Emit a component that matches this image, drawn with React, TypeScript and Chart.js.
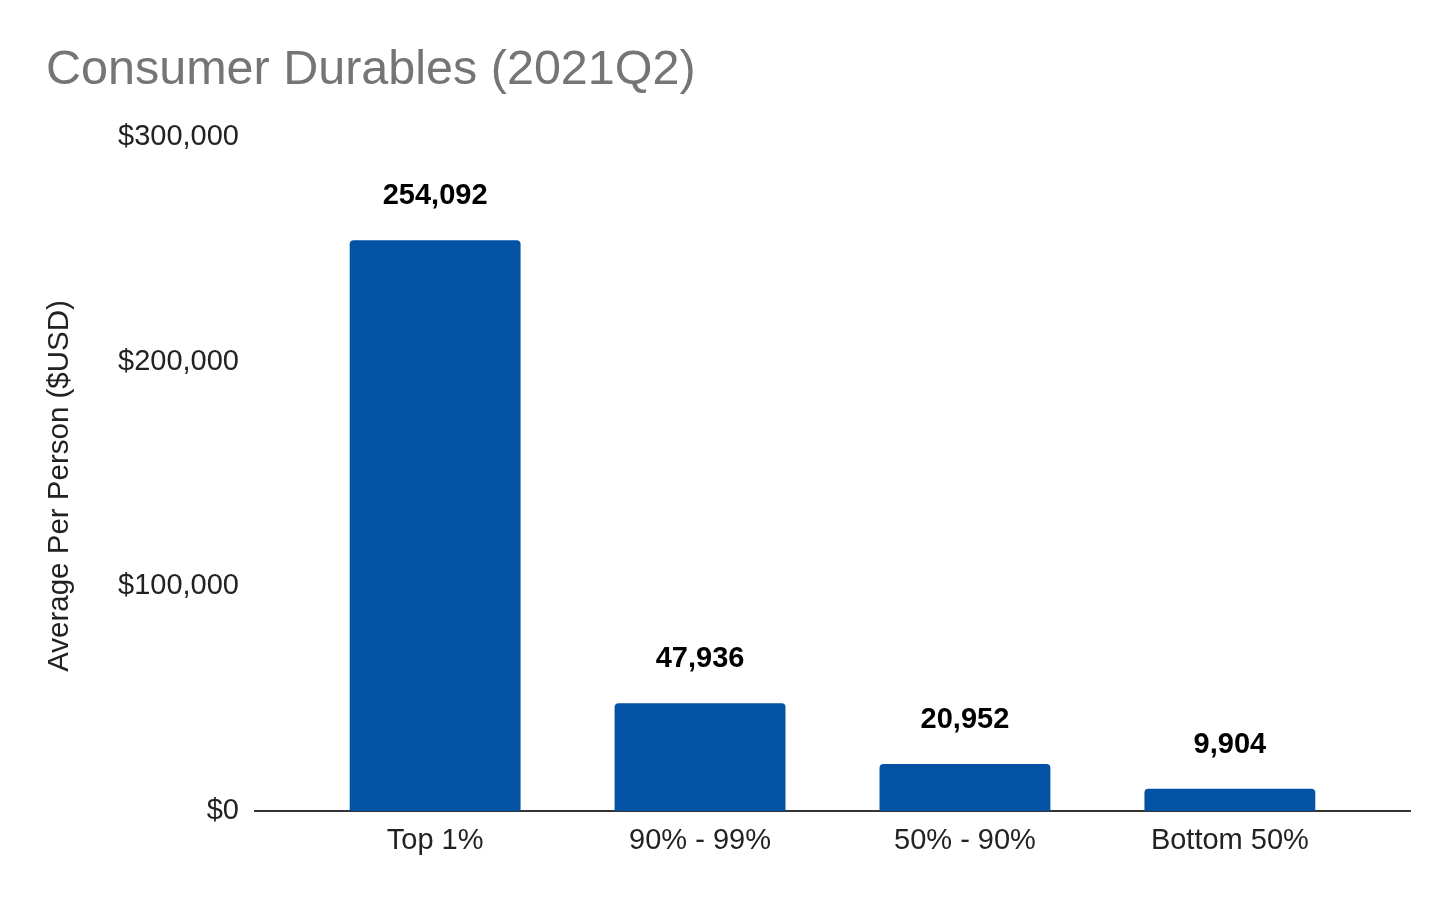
import React, { useEffect, useRef } from 'react';
import { Chart, registerables, Plugin } from 'chart.js';

Chart.register(...registerables);

const categories = ['Top 1%', '90% - 99%', '50% - 90%', 'Bottom 50%'];
const averagePerPerson = [254092, 47936, 20952, 9904];
const yTicks = [0, 100000, 200000, 300000];

const chartTitle = 'Consumer Durables (2021Q2)';
const yAxisTitle = 'Average Per Person ($USD)';
const FONT = '"Liberation Sans", Arial, sans-serif';

// title and y axis title, placed like the sheets export
const titlesPlugin: Plugin<'bar'> = {
  id: 'titles',
  afterDraw(chart) {
    const { ctx, chartArea } = chart;
    ctx.save();
    ctx.fillStyle = '#757575';
    ctx.font = `48.5px ${FONT}`;
    ctx.textAlign = 'left';
    ctx.textBaseline = 'alphabetic';
    ctx.fillText(chartTitle, 46, 84);

    ctx.fillStyle = '#222222';
    ctx.font = `29.5px ${FONT}`;
    ctx.translate(60, (chartArea.top + chartArea.bottom) / 2 + 12);
    ctx.rotate(-Math.PI / 2);
    ctx.textAlign = 'center';
    ctx.textBaseline = 'middle';
    ctx.fillText(yAxisTitle, 0, 0);
    ctx.restore();
  },
};

const valueLabelsPlugin: Plugin<'bar'> = {
  id: 'valueLabels',
  afterDatasetsDraw(chart) {
    const { ctx } = chart;
    const meta = chart.getDatasetMeta(0);
    ctx.save();
    ctx.fillStyle = '#000000';
    ctx.font = `bold 29px ${FONT}`;
    ctx.textAlign = 'center';
    ctx.textBaseline = 'middle';
    meta.data.forEach((bar, i) => {
      const { x, y } = bar.getProps(['x', 'y'], true);
      ctx.fillText(averagePerPerson[i].toLocaleString('en-US'), x, y - 44);
    });
    ctx.restore();
  },
};

const App: React.FC = () => {
  const canvasRef = useRef<HTMLCanvasElement | null>(null);
  const chartRef = useRef<Chart | null>(null);

  useEffect(() => {
    document.body.style.margin = '0';
    if (!canvasRef.current) return;
    const ctx = canvasRef.current.getContext('2d');
    if (!ctx) return;

    chartRef.current = new Chart(ctx, {
      type: 'bar',
      data: {
        datasets: [
          {
            label: yAxisTitle,
            data: averagePerPerson.map((v, i) => ({ x: i, y: v })),
            backgroundColor: '#0352a4',
            borderRadius: { topLeft: 4, topRight: 4, bottomLeft: 0, bottomRight: 0 },
            borderSkipped: 'bottom',
            categoryPercentage: 1,
            barPercentage: 0.645,
          },
        ],
      },
      options: {
        animation: false,
        responsive: false,
        maintainAspectRatio: false,
        layout: { padding: { top: 137, right: 46, left: 0, bottom: 0 } },
        plugins: {
          legend: { display: false },
          tooltip: { enabled: false },
          title: { display: false },
        },
        scales: {
          x: {
            type: 'linear',
            offset: false,
            min: -0.68,
            max: 3.68,
            grid: { display: false, drawTicks: false, offset: false },
            border: { display: true, color: '#333333', width: 2 },
            afterBuildTicks: (scale) => {
              scale.ticks = categories.map((_, i) => ({ value: i }));
            },
            afterFit: (scale) => {
              scale.height = 89;
            },
            ticks: {
              padding: 13,
              color: '#222222',
              font: { family: FONT, size: 29 },
              maxRotation: 0,
              autoSkip: false,
              callback: (value) => categories[Number(value)] ?? '',
            },
          },
          y: {
            min: 0,
            max: 300000,
            grid: { display: false, drawTicks: false },
            border: { display: false },
            afterBuildTicks: (scale) => {
              scale.ticks = yTicks.map((v) => ({ value: v }));
            },
            afterFit: (scale) => {
              scale.width = 255;
            },
            ticks: {
              padding: 16,
              color: '#222222',
              font: { family: FONT, size: 29 },
              callback: (value) => '$' + Number(value).toLocaleString('en-US'),
            },
          },
        },
      },
      plugins: [titlesPlugin, valueLabelsPlugin],
    });

    return () => {
      if (chartRef.current) {
        chartRef.current.destroy();
        chartRef.current = null;
      }
    };
  }, []);

  return (
    <div style={{ position: 'absolute', left: 0, top: 0, width: 1456, height: 900, background: '#ffffff' }}>
      <canvas ref={canvasRef} width={1456} height={900} style={{ width: 1456, height: 900 }}></canvas>
    </div>
  );
};

export default App;
